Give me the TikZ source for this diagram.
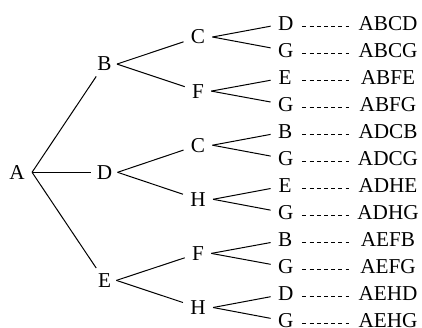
\documentclass[tikz,border=0pt]{standalone}
\usepackage{fontspec}
\setmainfont{Liberation Serif}

\begin{document}
\begin{tikzpicture}[x=0.5pt, y=-0.5pt,
  font=\fontsize{10.6pt}{12pt}\selectfont,
  tnode/.style={inner xsep=3.5pt, inner ysep=2.5pt},
  midnode/.style={inner xsep=2.5pt, inner ysep=2.5pt},
  leaf/.style={inner xsep=3.5pt, inner ysep=2.5pt, text width=7pt, align=center},
  word/.style={inner sep=0pt, minimum width=39pt, minimum height=12pt},
  dashline/.style={line width=0.45pt, dash pattern=on 2pt off 1.6pt, shorten <=1.5pt},
  edge/.style={line width=0.5pt}]
  \useasboundingbox (0,0) rectangle (422,327);
  % root and first level
  \node[tnode] (node_A) at (17,172.3) {A};
  \node[midnode] (node_AB) at (104.5,64.05) {B};
  \node[midnode] (node_AD) at (104.5,172.3) {D};
  \node[midnode] (node_AE) at (104.5,280.4) {E};
  \draw[edge] (node_A.east) -- (node_AB);
  \draw[edge] (node_A.east) -- (node_AD);
  \draw[edge] (node_A.east) -- (node_AE);
  % second level
  \node[tnode] (node_ABC) at (198,37) {C};
  \node[tnode] (node_ABF) at (198,91.1) {F};
  \node[tnode] (node_ADC) at (198,145.2) {C};
  \node[tnode] (node_ADH) at (198,199.3) {H};
  \node[tnode] (node_AEF) at (198,253.4) {F};
  \node[tnode] (node_AEH) at (198,307.5) {H};
  \draw[edge] (node_AB.east) -- (node_ABC);
  \draw[edge] (node_AB.east) -- (node_ABF);
  \draw[edge] (node_AD.east) -- (node_ADC);
  \draw[edge] (node_AD.east) -- (node_ADH);
  \draw[edge] (node_AE.east) -- (node_AEF);
  \draw[edge] (node_AE.east) -- (node_AEH);
  % leaves
  \node[leaf] (leaf_ABCD) at (285,23.5) {D};
  \node[leaf] (leaf_ABCG) at (285,50.55) {G};
  \node[leaf] (leaf_ABFE) at (285,77.6) {E};
  \node[leaf] (leaf_ABFG) at (285,104.65) {G};
  \node[leaf] (leaf_ADCB) at (285,131.7) {B};
  \node[leaf] (leaf_ADCG) at (285,158.75) {G};
  \node[leaf] (leaf_ADHE) at (285,185.8) {E};
  \node[leaf] (leaf_ADHG) at (285,212.85) {G};
  \node[leaf] (leaf_AEFB) at (285,239.9) {B};
  \node[leaf] (leaf_AEFG) at (285,266.95) {G};
  \node[leaf] (leaf_AEHD) at (285,294) {D};
  \node[leaf] (leaf_AEHG) at (285,321.05) {G};
  \draw[edge] (node_ABC.east) -- (leaf_ABCD);
  \draw[edge] (node_ABC.east) -- (leaf_ABCG);
  \draw[edge] (node_ABF.east) -- (leaf_ABFE);
  \draw[edge] (node_ABF.east) -- (leaf_ABFG);
  \draw[edge] (node_ADC.east) -- (leaf_ADCB);
  \draw[edge] (node_ADC.east) -- (leaf_ADCG);
  \draw[edge] (node_ADH.east) -- (leaf_ADHE);
  \draw[edge] (node_ADH.east) -- (leaf_ADHG);
  \draw[edge] (node_AEF.east) -- (leaf_AEFB);
  \draw[edge] (node_AEF.east) -- (leaf_AEFG);
  \draw[edge] (node_AEH.east) -- (leaf_AEHD);
  \draw[edge] (node_AEH.east) -- (leaf_AEHG);
  % path words with dashed leaders
  \node[word] (path_ABCD) at (388,23.5) {ABCD};
  \node[word] (path_ABCG) at (388,50.55) {ABCG};
  \node[word] (path_ABFE) at (388,77.6) {ABFE};
  \node[word] (path_ABFG) at (388,104.65) {ABFG};
  \node[word] (path_ADCB) at (388,131.7) {ADCB};
  \node[word] (path_ADCG) at (388,158.75) {ADCG};
  \node[word] (path_ADHE) at (388,185.8) {ADHE};
  \node[word] (path_ADHG) at (388,212.85) {ADHG};
  \node[word] (path_AEFB) at (388,239.9) {AEFB};
  \node[word] (path_AEFG) at (388,266.95) {AEFG};
  \node[word] (path_AEHD) at (388,294) {AEHD};
  \node[word] (path_AEHG) at (388,321.05) {AEHG};
  \draw[dashline] ([yshift=-1.3pt]leaf_ABCD.east) -- ([yshift=-1.3pt]path_ABCD.west);
  \draw[dashline] ([yshift=-1.3pt]leaf_ABCG.east) -- ([yshift=-1.3pt]path_ABCG.west);
  \draw[dashline] ([yshift=-1.3pt]leaf_ABFE.east) -- ([yshift=-1.3pt]path_ABFE.west);
  \draw[dashline] ([yshift=-1.3pt]leaf_ABFG.east) -- ([yshift=-1.3pt]path_ABFG.west);
  \draw[dashline] ([yshift=-1.3pt]leaf_ADCB.east) -- ([yshift=-1.3pt]path_ADCB.west);
  \draw[dashline] ([yshift=-1.3pt]leaf_ADCG.east) -- ([yshift=-1.3pt]path_ADCG.west);
  \draw[dashline] ([yshift=-1.3pt]leaf_ADHE.east) -- ([yshift=-1.3pt]path_ADHE.west);
  \draw[dashline] ([yshift=-1.3pt]leaf_ADHG.east) -- ([yshift=-1.3pt]path_ADHG.west);
  \draw[dashline] ([yshift=-1.3pt]leaf_AEFB.east) -- ([yshift=-1.3pt]path_AEFB.west);
  \draw[dashline] ([yshift=-1.3pt]leaf_AEFG.east) -- ([yshift=-1.3pt]path_AEFG.west);
  \draw[dashline] ([yshift=-1.3pt]leaf_AEHD.east) -- ([yshift=-1.3pt]path_AEHD.west);
  \draw[dashline] ([yshift=-1.3pt]leaf_AEHG.east) -- ([yshift=-1.3pt]path_AEHG.west);
\end{tikzpicture}
\end{document}
